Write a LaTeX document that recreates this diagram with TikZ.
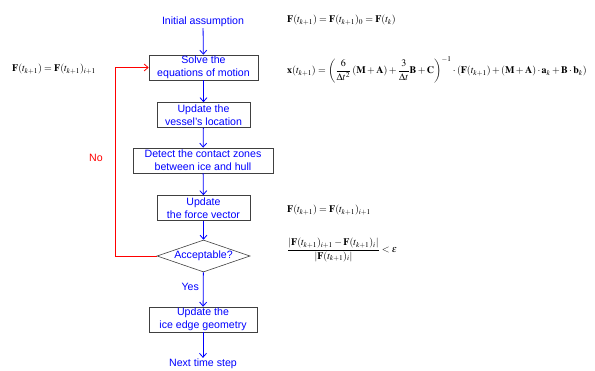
\documentclass[tikz,border=0pt]{standalone}
\usepackage{amsmath}
\usepackage{mathptmx}
\usepackage{fontspec}
\setmainfont{Liberation Sans}
\usetikzlibrary{shapes.geometric,arrows.meta}
\begin{document}
\begin{tikzpicture}[
    x=1pt, y=-1pt,
    txt/.style={font=\fontsize{10.6}{12.6}\selectfont, text=blue, align=center, inner sep=1pt},
    stepbox/.style={txt, rectangle, draw=black!75, line width=0.6pt, minimum height=25pt, inner ysep=0.5pt},
    decide/.style={txt, diamond, draw=black!75, line width=0.6pt, aspect=2.9, minimum width=93pt, minimum height=32pt, inner sep=0pt},
    flow/.style={-{Straight Barb[length=4pt,width=7pt]}, draw=blue, line width=0.8pt},
    back/.style={-{Straight Barb[length=4pt,width=7pt]}, draw=red, line width=0.8pt},
    eq/.style={anchor=west, font=\fontsize{10}{12}\selectfont, inner sep=0pt}
]
    \useasboundingbox (0,0) rectangle (595,370);

    \node[txt]                         (init)   at (203,22)    {Initial assumption};
    \node[stepbox, minimum width=109pt] (solve)  at (203.5,67.5) {Solve the\\equations of motion};
    \node[stepbox, minimum width=93pt]  (vessel) at (203.5,115)  {Update the\\vessel's location};
    \node[stepbox, minimum width=140pt] (detect) at (203,160.5)  {Detect the contact zones\\between ice and hull};
    \node[stepbox, minimum width=93pt]  (force)  at (203.5,208)  {Update\\the force vector};
    \node[decide]                       (accept) at (203.5,256)  {Acceptable?};
    \node[stepbox, minimum width=108pt] (ice)    at (203,319.5)  {Update the\\ice edge geometry};
    \node[txt]                         (next)   at (203,364)    {Next time step};

    \draw[flow] (init)   -- (solve);
    \draw[flow] (solve)  -- (vessel);
    \draw[flow] (vessel) -- (detect);
    \draw[flow] (detect) -- (force);
    \draw[flow] (force)  -- (accept);
    \draw[flow] (accept) -- node[txt, left, pos=0.42, xshift=-3pt]{Yes} (ice);
    \draw[flow] (ice)    -- (next);

    \coordinate (corner) at (115,256);
    \draw[back] (accept.west) -- (corner) |- (solve.west);
    \node[txt, text=red] (no) at (96,158) {No};

    % equations
    \node[eq] (eqinit)  at (287,20)  {$\mathbf{F}(t_{k+1}) = \mathbf{F}(t_{k+1})_0 = \mathbf{F}(t_k)$};
    \node[eq] (eqleft)  at (12,69)   {$\mathbf{F}(t_{k+1}) = \mathbf{F}(t_{k+1})_{i+1}$};
    \node[eq] (eqmove)  at (287,70)  {$\mathbf{x}(t_{k+1}) = \left(\dfrac{6}{\Delta t^2}\left(\mathbf{M}+\mathbf{A}\right) + \dfrac{3}{\Delta t}\mathbf{B} + \mathbf{C}\right)^{-1} \cdot \left(\mathbf{F}(t_{k+1}) + \left(\mathbf{M}+\mathbf{A}\right)\cdot\mathbf{a}_k + \mathbf{B}\cdot\mathbf{b}_k\right)$};
    \node[eq] (eqforce) at (287,210) {$\mathbf{F}(t_{k+1}) = \mathbf{F}(t_{k+1})_{i+1}$};
    \node[eq] (eqconv)  at (287,250) {$\dfrac{\left|\mathbf{F}(t_{k+1})_{i+1} - \mathbf{F}(t_{k+1})_i\right|}{\left|\mathbf{F}(t_{k+1})_i\right|} < \varepsilon$};
\end{tikzpicture}
\end{document}
